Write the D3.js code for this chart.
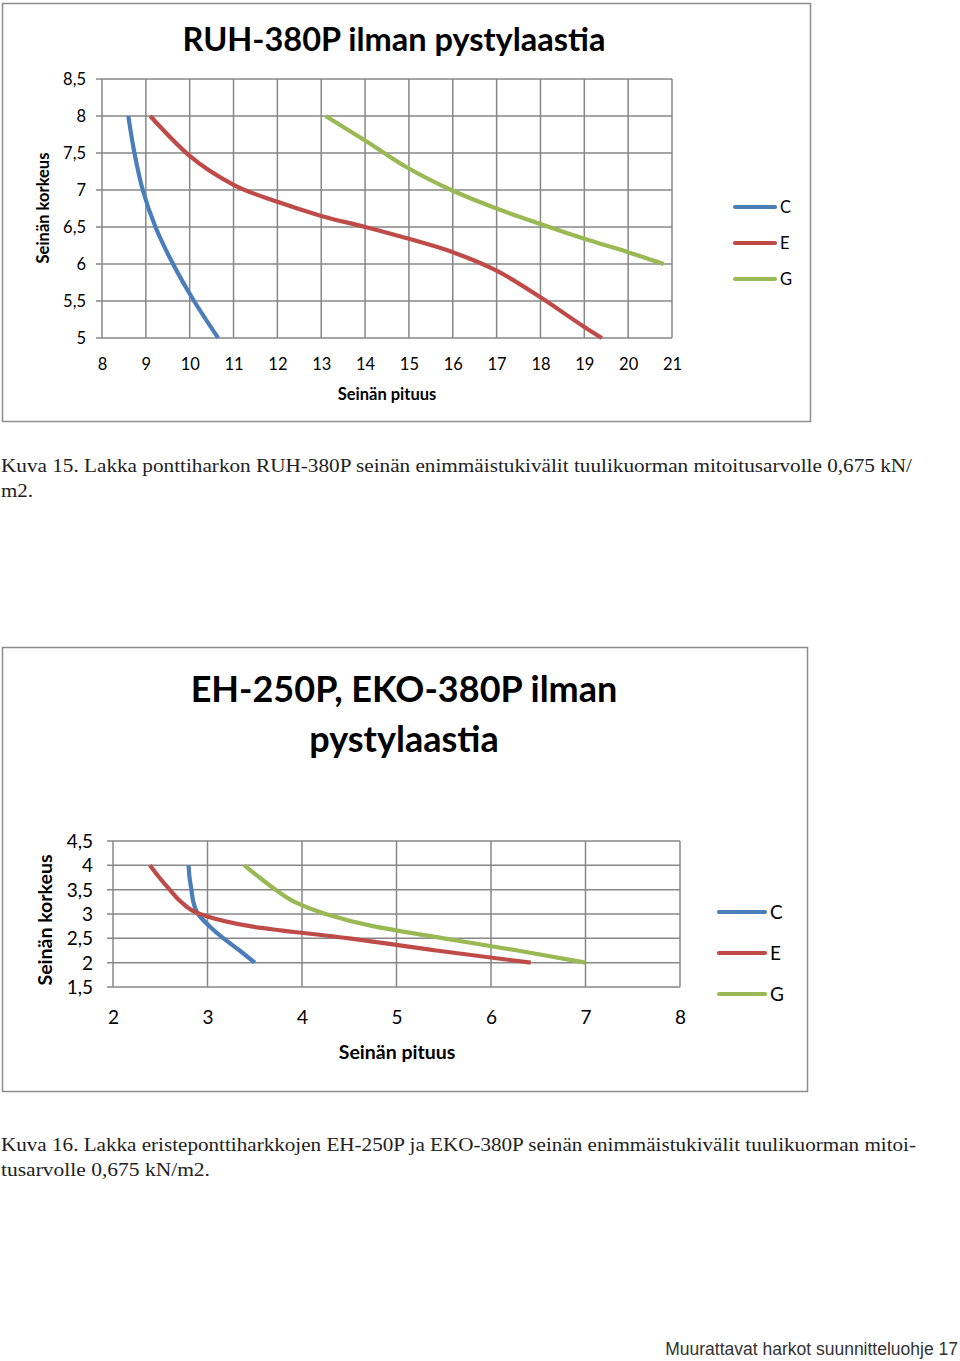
<!DOCTYPE html>
<html><head><meta charset="utf-8">
<script src="https://cdn.jsdelivr.net/npm/d3@7"></script>
<style>body{margin:0;background:#fff}svg{display:block}</style>
</head><body>
<script>
// ---------- Data ----------
const seriesNames = ["C", "E", "G"];
const seriesColors = ["#4A7EBB", "#BE4B48", "#98B954"];

// Chart 1: RUH-380P
const c1Title = "RUH-380P ilman pystylaastia";
const c1XTicks = [8,9,10,11,12,13,14,15,16,17,18,19,20,21];
const c1YTicks = [5,5.5,6,6.5,7,7.5,8,8.5];
const c1_C_x = [8.6, 8.74, 8.93, 9.22, 9.62, 10.1, 10.65];
const c1_C_y = [8, 7.5, 7, 6.5, 6, 5.5, 5];
const c1_E_x = [9.1, 10, 11, 12, 13, 14, 15, 16, 17, 18, 19, 19.4];
const c1_E_y = [8, 7.46, 7.07, 6.84, 6.65, 6.5, 6.34, 6.16, 5.91, 5.55, 5.15, 5];
const c1_G_x = [13.1, 14, 15, 16, 17, 18, 19, 20, 20.81];
const c1_G_y = [8, 7.67, 7.29, 6.99, 6.75, 6.54, 6.34, 6.16, 6];

// Chart 2: EH-250P, EKO-380P
const c2TitleLines = ["EH-250P, EKO-380P ilman", "pystylaastia"];
const c2XTicks = [2,3,4,5,6,7,8];
const c2YTicks = [1.5,2,2.5,3,3.5,4,4.5];
const c2_C_x = [2.8, 2.81, 2.83, 2.85, 2.9, 3.02, 3.17, 3.34, 3.5];
const c2_C_y = [4, 3.75, 3.5, 3.25, 3, 2.75, 2.5, 2.25, 2];
const c2_E_x = [2.39, 2.49, 2.6, 2.72, 2.92, 3.45, 4.5, 5.42, 6.42];
const c2_E_y = [4, 3.75, 3.5, 3.25, 3, 2.75, 2.5, 2.25, 2];
const c2_G_x = [3.39, 3.55, 3.72, 3.92, 4.25, 4.75, 5.5, 6.28, 7.0];
const c2_G_y = [4, 3.75, 3.5, 3.25, 3, 2.75, 2.5, 2.25, 2];

const xTitle = "Seinän pituus";
const yTitle = "Seinän korkeus";
const caption1 = ["Kuva 15. Lakka ponttiharkon RUH-380P seinän enimmäistukivälit tuulikuorman mitoitusarvolle 0,675 kN/", "m2."];
const caption2 = ["Kuva 16. Lakka eristeponttiharkkojen EH-250P ja EKO-380P seinän enimmäistukivälit tuulikuorman mitoi-", "tusarvolle 0,675 kN/m2."];
const footer = "Muurattavat harkot suunnitteluohje 17";

const fmt = v => String(v).replace(".", ",");
const zipY = (xs, ys) => ({curve: d3.curveMonotoneY, pts: xs.map((x, i) => ({x, y: ys[i]})).sort((a, b) => a.y - b.y)});
const zipX = (xs, ys) => ({curve: d3.curveMonotoneX, pts: xs.map((x, i) => ({x, y: ys[i]})).sort((a, b) => a.x - b.x)});

const svg = d3.select("body").append("svg").attr("width", 960).attr("height", 1361);
svg.append("rect").attr("width", 960).attr("height", 1361).attr("fill", "#fff");

const FONT = "Lato, 'Open Sans', sans-serif";
const gridColor = "#878787";

function drawChart(cfg) {
  const g = svg.append("g");
  g.append("rect").attr("x", cfg.box[0]).attr("y", cfg.box[1]).attr("width", cfg.box[2]).attr("height", cfg.box[3])
    .attr("fill", "#fff").attr("stroke", "#8c8c8c").attr("stroke-width", 1.5);
  const x = d3.scaleLinear().domain(cfg.xDomain).range(cfg.xRange);
  const y = d3.scaleLinear().domain(cfg.yDomain).range(cfg.yRange);

  cfg.title.forEach((t, i) => {
    g.append("text").attr("x", cfg.titleX).attr("y", cfg.titleY + i * cfg.titleLH)
      .attr("text-anchor", "middle").attr("font-family", FONT).attr("font-weight", "bold")
      .attr("font-size", cfg.titleSize).attr("fill", "#000").text(t);
  });

  const grid = g.append("g").attr("stroke", gridColor).attr("stroke-width", 1.5);
  cfg.xTicks.forEach(v => grid.append("line").attr("x1", x(v)).attr("x2", x(v)).attr("y1", cfg.yRange[0]).attr("y2", cfg.yRange[1]));
  cfg.yTicks.forEach(v => grid.append("line").attr("x1", cfg.xRange[0] - 6).attr("x2", cfg.xRange[1]).attr("y1", y(v)).attr("y2", y(v)));

  const yAxis = g.append("g").attr("transform", `translate(${cfg.yLabelX},0)`)
    .call(d3.axisLeft(y).tickValues(cfg.yTicks).tickFormat(fmt).tickSize(0).tickPadding(0));
  yAxis.select(".domain").remove();
  yAxis.selectAll("text").attr("font-family", FONT).attr("font-size", cfg.tickSize).attr("fill", "#000").attr("dy", "0.35em");

  const xAxis = g.append("g").attr("transform", `translate(0,${cfg.xLabelY})`)
    .call(d3.axisBottom(x).tickValues(cfg.xTicks).tickFormat(fmt).tickSize(0).tickPadding(0));
  xAxis.select(".domain").remove();
  xAxis.selectAll("text").attr("font-family", FONT).attr("font-size", cfg.tickSize).attr("fill", "#000").attr("dy", "0.35em");

  g.append("text").attr("x", cfg.xTitlePos[0]).attr("y", cfg.xTitlePos[1]).attr("text-anchor", "middle")
    .attr("dy", "0.35em").attr("font-family", FONT).attr("font-weight", "bold").attr("font-size", cfg.axisTitleSize).text(xTitle);
  g.append("text").attr("transform", `translate(${cfg.yTitlePos[0]},${cfg.yTitlePos[1]}) rotate(-90)`).attr("text-anchor", "middle")
    .attr("dy", "0.35em").attr("font-family", FONT).attr("font-weight", "bold").attr("font-size", cfg.axisTitleSize).text(yTitle);

  cfg.series.forEach((s, i) => {
    const line = d3.line().x(d => x(d.x)).y(d => y(d.y)).curve(s.curve);
    g.append("path").datum(s.pts).attr("d", line).attr("fill", "none").attr("stroke", seriesColors[i])
      .attr("stroke-width", 4.2).attr("stroke-linecap", "butt").attr("stroke-linejoin", "round");
  });

  seriesNames.forEach((n, i) => {
    const ly = cfg.legendY + i * cfg.legendStep;
    g.append("line").attr("x1", cfg.legendX).attr("x2", cfg.legendX + cfg.legendLen).attr("y1", ly).attr("y2", ly)
      .attr("stroke", seriesColors[i]).attr("stroke-width", 4.2).attr("stroke-linecap", "round");
    g.append("text").attr("x", cfg.legendX + cfg.legendLen + 5).attr("y", ly).attr("dy", "0.35em")
      .attr("font-family", FONT).attr("font-size", cfg.legendSize).text(n);
  });
}

drawChart({
  box: [2.5, 3.5, 808, 418],
  title: [c1Title], titleX: 394, titleY: 51, titleLH: 0, titleSize: 32.5,
  xDomain: [8, 21], xRange: [102, 672],
  yDomain: [5, 8.5], yRange: [338, 79],
  xTicks: c1XTicks, yTicks: c1YTicks,
  yLabelX: 86, xLabelY: 364, tickSize: 16.5,
  xTitlePos: [387, 394], yTitlePos: [43, 208], axisTitleSize: 16.5,
  series: [zipY(c1_C_x, c1_C_y), zipX(c1_E_x, c1_E_y), zipX(c1_G_x, c1_G_y)],
  legendX: 735, legendLen: 40, legendY: 207, legendStep: 36, legendSize: 16.5
});

drawChart({
  box: [2.5, 647.5, 805, 444],
  title: c2TitleLines, titleX: 404, titleY: 702, titleLH: 50, titleSize: 36,
  xDomain: [2, 8], xRange: [113, 680],
  yDomain: [1.5, 4.5], yRange: [987, 841],
  xTicks: c2XTicks, yTicks: c2YTicks,
  yLabelX: 93, xLabelY: 1017, tickSize: 19,
  xTitlePos: [397, 1052], yTitlePos: [45, 920], axisTitleSize: 19.5,
  series: [zipY(c2_C_x, c2_C_y), zipY(c2_E_x, c2_E_y), zipY(c2_G_x, c2_G_y)],
  legendX: 719, legendLen: 46, legendY: 912, legendStep: 41, legendSize: 19
});

const CAP = "'Liberation Serif', 'DejaVu Serif', serif";
function caption(lines, y0, widths) {
  lines.forEach((t, i) => {
    const tx = svg.append("text").attr("x", 1).attr("y", y0 + i * 24.5).attr("font-family", CAP)
      .attr("font-size", 19).attr("fill", "#222").text(t);
    if (widths[i]) tx.attr("textLength", widths[i]).attr("lengthAdjust", "spacingAndGlyphs");
  });
}
caption(caption1, 472, [911, 32]);
caption(caption2, 1151, [915, 209]);

svg.append("text").attr("x", 958).attr("y", 1355).attr("text-anchor", "end")
  .attr("font-family", "'Liberation Sans', Arial, sans-serif").attr("font-size", 17.5).attr("fill", "#333").text(footer);
</script>
</body></html>
